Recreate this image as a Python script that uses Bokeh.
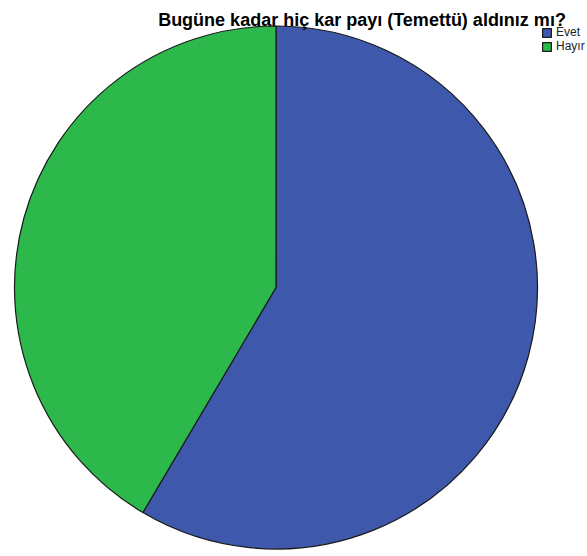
import numpy as np
from bokeh.plotting import figure
from bokeh.models import Range1d, Label, Legend, LegendItem
from bokeh.embed import file_html
from bokeh.resources import INLINE

title = "Bugüne kadar hiç kar payı (Temettü) aldınız mı?"
categories = ["Evet", "Hayır"]
percents = [58.5, 41.5]
colors = ["#3e58ac", "#2db84b"]

W, H = 587, 556
cx, cy, r = 275.5, H - 287, 261.5

frac = np.array(percents) / sum(percents)
ends = np.cumsum(frac) * 2 * np.pi
starts = np.concatenate([[0], ends[:-1]])
start_angle = np.pi / 2 - starts
end_angle = np.pi / 2 - ends

p = figure(width=W, height=H, output_backend="svg", toolbar_location=None,
           x_range=Range1d(0, W), y_range=Range1d(0, H), min_border=0,
           outline_line_color=None)
p.axis.visible = False
p.grid.visible = False

rends = []
for i in range(len(categories)):
    rr = p.wedge(x=cx, y=cy, radius=r, start_angle=start_angle[i], end_angle=end_angle[i],
                 direction="clock", fill_color=colors[i], line_color="#1a1a1a", line_width=1.2)
    rends.append(rr)

legend = Legend(items=[LegendItem(label=categories[i], renderers=[rends[i]]) for i in range(len(categories))],
                location=(541, H - 53), glyph_width=11, glyph_height=11, label_height=11,
                spacing=0, padding=0, margin=0, label_standoff=4,
                label_text_font="Liberation Sans", label_text_font_size="12px",
                label_text_color="#222222",
                border_line_color=None, background_fill_alpha=0)
p.add_layout(legend, "center")

p.add_layout(Label(x=361.5, y=H - 19, x_units="screen", y_units="screen", text=title,
                   text_align="center", text_baseline="alphabetic",
                   text_font="Liberation Sans", text_font_style="bold",
                   text_font_size="18px", text_color="#000000"))

open("out.html", "w").write(file_html(p, INLINE))
